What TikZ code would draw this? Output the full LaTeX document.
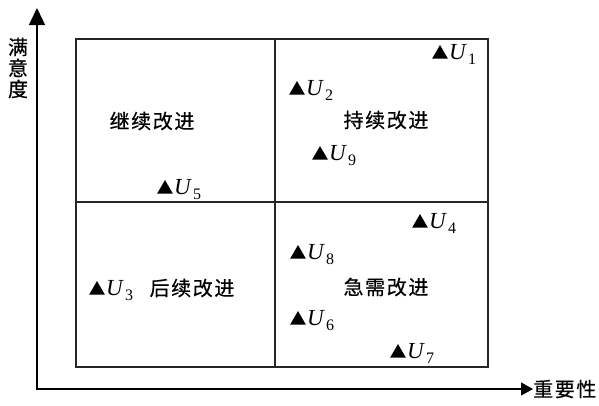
\documentclass[tikz,border=0pt]{standalone}
\usepackage{fontspec}
\setmainfont{Liberation Serif}
\newfontfamily\cjk[LetterSpace=8,FakeBold=0.6]{Noto Sans CJK SC}
\usetikzlibrary{shapes.geometric,arrows.meta}
\tikzset{
  cn/.style={font=\cjk\fontsize{20}{21}\selectfont, inner sep=0pt},
  tri/.style={regular polygon, regular polygon sides=3, fill=black, draw=none,
    inner sep=0pt, minimum size=18pt, yshift=-2pt},
  ulab/.style={anchor=base west, inner sep=0pt, font=\fontsize{23}{23}\selectfont},
  frame/.style={line width=1.3pt, draw=black!85},
  axis/.style={line width=1.3pt}
}
\newcommand\ulabel[1]{\textit{U}\hspace{1pt}\raisebox{-5pt}{\fontsize{16}{16}\selectfont #1}}
\begin{document}
\begin{tikzpicture}[x=1pt,y=-1pt]
\useasboundingbox (0,0) rectangle (599,405);
% axes
\coordinate (O) at (37,389);
\coordinate (Ytip) at (37,8);
\coordinate (Xtip) at (533,389);
\draw[axis, {Triangle[length=17pt,width=16pt]}-{Triangle[length=12pt,width=13pt]}] (Ytip) -- (O) -- (Xtip);
\node[cn, align=center] (ylab) at (18,68) {满\\意\\度};
\node[cn, anchor=west] (xlab) at (Xtip) {重要性};
% frame
\coordinate (TL) at (76,39);
\coordinate (BR) at (488,367);
\coordinate (MT) at (275,39);
\coordinate (MB) at (275,367);
\coordinate (ML) at (76,202);
\coordinate (MR) at (488,202);
\draw[frame] (TL) rectangle (BR);
\draw[frame] (MT) -- (MB);
\draw[frame] (ML) -- (MR);
% quadrant labels
\node[cn] (q1) at (152,121) {继续改进};
\node[cn] (q2) at (386,120) {持续改进};
\node[cn] (q3) at (192,288) {后续改进};
\node[cn] (q4) at (386,287) {急需改进};
% markers
\node[tri] (t1) at (440,52) {};
\node[ulab] (u1) at (449,59) {\ulabel{1}};
\node[tri] (t2) at (297,88) {};
\node[ulab] (u2) at (306,95) {\ulabel{2}};
\node[tri] (t9) at (320,153) {};
\node[ulab] (u9) at (329,160) {\ulabel{9}};
\node[tri] (t5) at (165,187) {};
\node[ulab] (u5) at (174,194) {\ulabel{5}};
\node[tri] (t3) at (97,288) {};
\node[ulab] (u3) at (106,295) {\ulabel{3}};
\node[tri] (t4) at (420,221) {};
\node[ulab] (u4) at (429,228) {\ulabel{4}};
\node[tri] (t8) at (298,252) {};
\node[ulab] (u8) at (307,259) {\ulabel{8}};
\node[tri] (t6) at (298,318) {};
\node[ulab] (u6) at (307,325) {\ulabel{6}};
\node[tri] (t7) at (398,351) {};
\node[ulab] (u7) at (407,358) {\ulabel{7}};
\end{tikzpicture}
\end{document}
